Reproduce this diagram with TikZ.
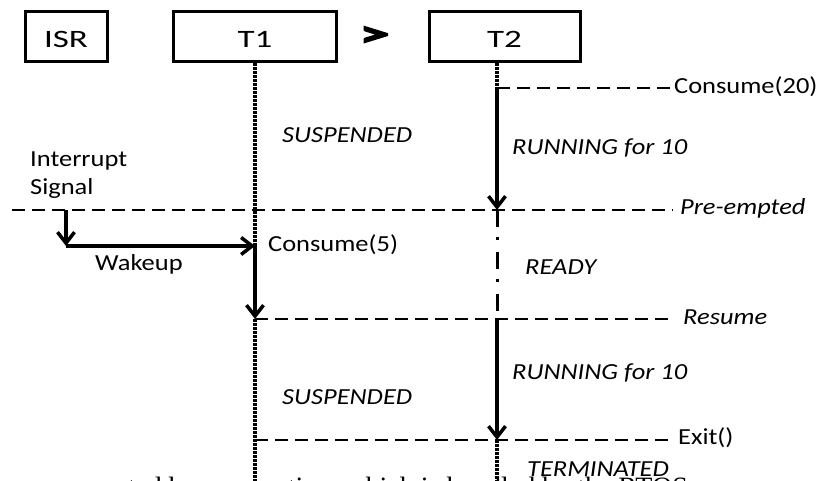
\documentclass[tikz,border=0pt]{standalone}
\usepackage{fontspec}
\setmainfont{Carlito}[FakeStretch=1.15]
\newfontfamily\boxfont{Carlito}[FakeStretch=1.4]
\newfontfamily\prioritysign{Carlito}[FakeStretch=1.7, FakeBold=4]
\newfontfamily\bodyserif{Liberation Serif}
\usetikzlibrary{arrows.meta}

\begin{document}
\begin{tikzpicture}[x=1pt,y=-1pt,
  taskbox/.style={draw, line width=3pt, minimum height=50pt, inner sep=0pt,
    font=\boxfont\fontsize{25}{29}\selectfont, text height=22pt, text depth=0pt},
  lbl/.style={inner sep=0pt, anchor=base west, font=\fontsize{23}{28}\selectfont},
  stlbl/.style={lbl, font=\fontsize{23}{28}\selectfont\itshape},
  evline/.style={line width=2.5pt, dash pattern=on 12.5pt off 7.5pt},
  lifeline/.style={line width=4pt, dash pattern=on 3pt off 1pt},
  readyline/.style={line width=3pt, dash pattern=on 17pt off 10pt on 3pt off 12pt},
  runarrow/.style={line width=3.5pt, -{Straight Barb[length=11pt,width=17pt,line width=3.5pt]}},
]
\fill[white] (0,0) rectangle (820,481);
\useasboundingbox (0,0) rectangle (820,481);

% task boxes
\node[taskbox, minimum width=82pt]  (isr) at (66,37)    {ISR};
\node[taskbox, minimum width=163pt] (t1)  at (255,37)   {T1};
\node[taskbox, minimum width=151pt] (t2)  at (504.5,37) {T2};
\node[inner sep=0pt, anchor=base, font=\prioritysign\bfseries\fontsize{36}{36}\selectfont] (prio) at (374.5,46) {>};

% event points on the time lines
\coordinate (c20)   at (497,88);
\coordinate (pre)   at (497,210);
\coordinate (res2)  at (497,319);
\coordinate (exit2) at (497,440);
\coordinate (t2bot) at (497,481);
\coordinate (wake)  at (255,246);
\coordinate (res1)  at (255,319);
\coordinate (exit1) at (255,440);
\coordinate (t1bot) at (255,481);
\coordinate (irq)   at (66,210);
\coordinate (irqc)  at (66,246);
\coordinate (preL)  at (12,210);
\coordinate (preR)  at (673,210);
\coordinate (resR)  at (673,319);
\coordinate (exitR) at (673,440);

% event labels
\node[lbl]   (lc20)  at (674,94)  {Consume(20)};
\node[stlbl] (lpre)  at (680,215) {Pre-empted};
\node[stlbl] (lres)  at (683,324) {Resume};
\node[lbl]   (lexit) at (678,444) {Exit()};
\node[lbl]   (lc5)   at (268,252) {Consume(5)};
\node[lbl]   (lwake) at (95,271)  {Wakeup};
\node[lbl, align=left] (lirq) at (30,195) {Interrupt\\Signal};

% state labels
\node[stlbl] (s1) at (282,143) {SUSPENDED};
\node[stlbl] (r1) at (512,155) {RUNNING for 10};
\node[stlbl] (rd) at (525,275) {READY};
\node[stlbl] (r2) at (512,379) {RUNNING for 10};
\node[stlbl] (s2) at (282,404) {SUSPENDED};
\node[stlbl] (tm) at (527,476) {TERMINATED};

% event lines
\draw[evline] (c20) -- (lc20.west |- c20);
\draw[evline] (preL) -- (preR);
\draw[evline] (res1) -- (resR);
\draw[evline] (exit1) -- (exitR);

% time lines of T1 and T2
\draw[lifeline] (t1.south) -- (wake);
\draw[lifeline] (res1) -- (t1bot);
\draw[lifeline] (t2.south -| c20) -- (c20);
\draw[lifeline] (exit2) -- (t2bot);
\draw[readyline] (pre) -- (res2);

% running phases and the interrupt
\draw[runarrow] (c20) -- (pre);
\draw[runarrow] (wake) -- (res1);
\draw[runarrow] (res2) -- (exit2);
\draw[runarrow] (irq) -- (irqc);
\draw[runarrow] (irqc) -- (wake);

% running text of the page below
\begin{scope}
\clip (0,0) rectangle (820,481);
\node[inner sep=0pt, anchor=base east, font=\bodyserif\fontsize{28}{30}\selectfont] (pagetext) at (688,496)
  {mented by preemption, which is handled by the RTOS};
\end{scope}
\end{tikzpicture}
\end{document}
